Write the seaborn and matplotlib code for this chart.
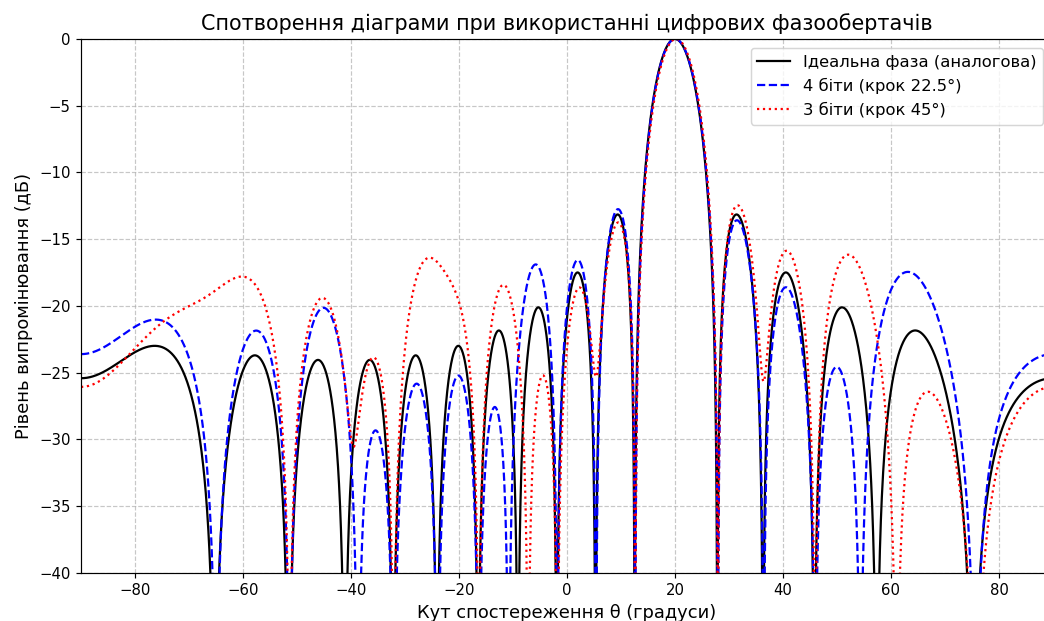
import numpy as np
import pandas as pd
import matplotlib
matplotlib.use("Agg")
import matplotlib.pyplot as plt
import seaborn as sns

# Uniform 16-element linear array, half-wavelength spacing, steered to 20 degrees
n_elements = 16
steer_deg = 20.0
spacing_wl = 0.5

# Element phases in degrees: analog (exact), 4-bit (22.5 deg step), 3-bit (45 deg step)
phase_ideal = [-180.0 * n * np.sin(np.radians(steer_deg)) for n in range(n_elements)]
phase_4bit = [0.0, -67.5, -112.5, -180.0, -247.5, -315.0, -360.0, -427.5,
              -495.0, -562.5, -607.5, -675.0, -742.5, -810.0, -855.0, -922.5]
phase_3bit = [0.0, -45.0, -135.0, -180.0, -225.0, -315.0, -360.0, -450.0,
              -495.0, -540.0, -630.0, -675.0, -720.0, -810.0, -855.0, -945.0]

labels = ["Ідеальна фаза (аналогова)", "4 біти (крок 22.5°)", "3 біти (крок 45°)"]
theta = np.linspace(-90, 90, 3000)


def pattern_db(phases_deg):
    n = np.arange(n_elements)
    geo = 2 * np.pi * spacing_wl * np.outer(np.sin(np.radians(theta)), n)
    af = np.abs(np.exp(1j * (geo + np.radians(phases_deg))).sum(axis=1))
    af = af / af.max()
    return 20 * np.log10(np.maximum(af, 1e-12))


frames = []
for lab, ph in zip(labels, [phase_ideal, phase_4bit, phase_3bit]):
    frames.append(pd.DataFrame({"theta": theta, "db": pattern_db(ph), "series": lab}))
df = pd.concat(frames, ignore_index=True)

dpi = 107
fig = plt.figure(figsize=(1044 / dpi, 621 / dpi), dpi=dpi)
ax = fig.add_axes([0.0776, 0.0773, 0.931, 0.86])

styles = {labels[0]: ("black", "-"), labels[1]: ("blue", "--"), labels[2]: ("red", ":")}
for lab in labels:
    c, ls = styles[lab]
    sns.lineplot(data=df[df["series"] == lab], x="theta", y="db", color=c,
                 linestyle=ls, linewidth=1.5, label=lab, ax=ax, estimator=None)

ax.set_xlim(-90, 90)
ax.set_ylim(-40, 0)
ax.set_title("Спотворення діаграми при використанні цифрових фазообертачів", fontsize=14)
ax.set_xlabel("Кут спостереження θ (градуси)", fontsize=12)
ax.set_ylabel("Рівень випромінювання (дБ)", fontsize=12)
ax.grid(True, linestyle="--", alpha=0.7)
ax.legend(loc="upper right", fontsize=11, bbox_to_anchor=(1043 / 1044, 1 - 48 / 621),
          bbox_transform=fig.transFigure, borderaxespad=0)

fig.savefig("out.png", dpi=dpi)
